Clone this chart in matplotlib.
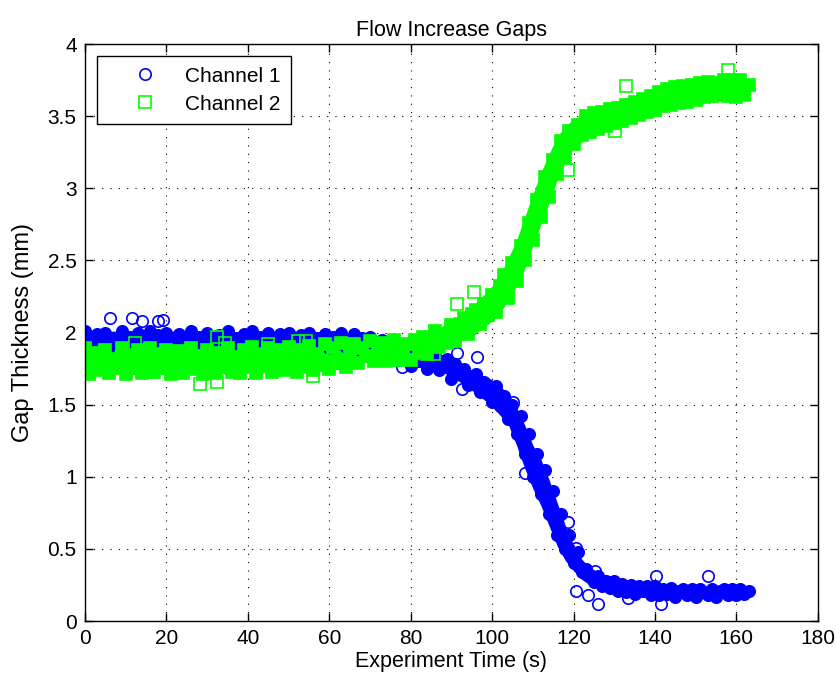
"""
Flow Increase Gaps - gap thickness of two channels over experiment time
"""

import numpy as np
import matplotlib.pyplot as plt

plt.rcParams['font.family'] = ['Liberation Sans', 'DejaVu Sans']

# sample times (1 s steps) for both channels
time_s = np.arange(0, 164, 1.0)

# Channel 1 gap thickness (mm)
ch1_gap = [
    2.01, 1.89, 1.95, 1.99, 1.91, 2.00, 1.90, 1.96, 1.93, 2.01,
    1.89, 1.97, 1.92, 2.00, 1.90, 1.95, 2.01, 1.91, 1.98, 1.93,
    2.00, 1.89, 1.96, 1.99, 1.90, 1.94, 2.01, 1.92, 1.97, 1.90,
    2.00, 1.93, 1.89, 1.98, 1.95, 2.01, 1.91, 1.96, 1.90, 1.99,
    1.93, 2.01, 1.89, 1.97, 1.92, 2.00, 1.90, 1.95, 1.99, 1.91,
    2.00, 1.94, 1.89, 1.98, 1.92, 2.00, 1.90, 1.96, 1.93, 1.99,
    1.89, 1.97, 1.92, 2.00, 1.90, 1.95, 1.99, 1.88, 1.96, 1.91,
    1.97, 1.86, 1.93, 1.95, 1.83, 1.90, 1.92, 1.81, 1.89, 1.87,
    1.77, 1.88, 1.80, 1.86, 1.75, 1.83, 1.84, 1.74, 1.80, 1.82,
    1.68, 1.78, 1.71, 1.75, 1.64, 1.70, 1.71, 1.59, 1.66, 1.64,
    1.52, 1.63, 1.49, 1.56, 1.40, 1.50, 1.30, 1.42, 1.16, 1.30,
    1.00, 1.16, 0.88, 1.05, 0.74, 0.90, 0.60, 0.74, 0.50, 0.60,
    0.40, 0.48, 0.34, 0.36, 0.32, 0.27, 0.31, 0.24, 0.28, 0.23,
    0.28, 0.21, 0.26, 0.20, 0.25, 0.19, 0.24, 0.21, 0.24, 0.18,
    0.24, 0.18, 0.22, 0.19, 0.23, 0.17, 0.21, 0.22, 0.18, 0.22,
    0.17, 0.22, 0.20, 0.18, 0.22, 0.17, 0.21, 0.22, 0.18, 0.22,
    0.18, 0.22, 0.19, 0.21,
]

# Channel 2 gap thickness (mm)
ch2_gap = [
    1.89, 1.71, 1.80, 1.86, 1.74, 1.88, 1.72, 1.82, 1.77, 1.89,
    1.71, 1.84, 1.76, 1.88, 1.72, 1.81, 1.89, 1.73, 1.85, 1.78,
    1.88, 1.71, 1.83, 1.87, 1.72, 1.79, 1.89, 1.75, 1.84, 1.71,
    1.88, 1.77, 1.72, 1.86, 1.81, 1.89, 1.73, 1.83, 1.72, 1.88,
    1.76, 1.90, 1.72, 1.85, 1.78, 1.89, 1.73, 1.82, 1.88, 1.74,
    1.90, 1.79, 1.73, 1.88, 1.76, 1.91, 1.74, 1.85, 1.80, 1.92,
    1.75, 1.89, 1.79, 1.93, 1.76, 1.86, 1.92, 1.79, 1.89, 1.84,
    1.94, 1.80, 1.87, 1.93, 1.80, 1.89, 1.95, 1.81, 1.88, 1.92,
    1.81, 1.95, 1.86, 1.97, 1.85, 1.94, 2.01, 1.90, 1.99, 1.93,
    2.05, 1.94, 2.06, 2.10, 1.99, 2.13, 2.16, 2.06, 2.20, 2.12,
    2.26, 2.14, 2.32, 2.40, 2.24, 2.48, 2.36, 2.60, 2.50, 2.76,
    2.64, 2.92, 2.80, 3.08, 2.94, 3.20, 3.10, 3.33, 3.22, 3.40,
    3.31, 3.44, 3.37, 3.50, 3.39, 3.52, 3.41, 3.53, 3.43, 3.55,
    3.45, 3.56, 3.47, 3.58, 3.49, 3.60, 3.51, 3.62, 3.53, 3.64,
    3.54, 3.67, 3.57, 3.69, 3.58, 3.70, 3.59, 3.71, 3.60, 3.72,
    3.61, 3.73, 3.63, 3.74, 3.64, 3.73, 3.65, 3.75, 3.64, 3.75,
    3.63, 3.75, 3.65, 3.72,
]

# spread of the dense readings (lowest / highest marker centre) along the run
ch1_band_t = [0, 30, 60, 70, 76, 80, 87, 92, 96, 100, 104, 106, 108, 110, 112, 114, 116, 118, 120, 122,
              124, 128, 132, 140, 150, 163]
ch1_band_lo = [1.89, 1.89, 1.88, 1.86, 1.81, 1.77, 1.74, 1.66, 1.58, 1.49, 1.36, 1.22, 1.06, 0.92, 0.80,
               0.66, 0.52, 0.42, 0.35, 0.29, 0.25, 0.21, 0.19, 0.17, 0.17, 0.17]
ch1_band_hi = [2.01, 2.01, 2.00, 1.98, 1.94, 1.90, 1.83, 1.79, 1.72, 1.67, 1.58, 1.48, 1.36, 1.22, 1.12,
               0.98, 0.82, 0.66, 0.53, 0.43, 0.37, 0.31, 0.28, 0.25, 0.22, 0.22]
ch2_band_t = [0, 30, 60, 68, 80, 89, 95, 100, 103, 106, 108, 110, 112, 114, 116, 118, 120, 125.6, 140,
              150, 160, 163]
ch2_band_lo = [1.71, 1.71, 1.73, 1.79, 1.81, 1.91, 1.97, 2.08, 2.18, 2.32, 2.44, 2.60, 2.75, 2.90, 3.06,
               3.18, 3.28, 3.39, 3.53, 3.60, 3.63, 3.63]
ch2_band_hi = [1.89, 1.89, 1.93, 1.94, 1.96, 2.06, 2.18, 2.32, 2.46, 2.64, 2.80, 2.96, 3.11, 3.24, 3.36,
               3.43, 3.48, 3.56, 3.69, 3.74, 3.75, 3.74]

# stray readings that stand out of the bands
ch1_out_t = [6.1, 11.5, 13.9, 17.9, 19.2, 77.8, 91.3, 92.5, 96.2, 105.2,
             108.0, 118.7, 120.7, 120.5, 123.6, 125.2, 126.0, 133.4, 140.2, 141.5, 153.0]
ch1_out_y = [2.10, 2.10, 2.08, 2.08, 2.09, 1.76, 1.86, 1.61, 1.83, 1.52,
             1.03, 0.69, 0.51, 0.21, 0.18, 0.35, 0.12, 0.16, 0.31, 0.12, 0.31]
ch2_out_t = [12.3, 28.2, 32.3, 32.3, 34.4, 45.0, 52.4, 54.4, 56.0, 85.7,
             91.3, 95.5, 118.7, 130.2, 133.0, 158.0]
ch2_out_y = [1.93, 1.645, 1.97, 1.66, 1.93, 1.92, 1.94, 1.94, 1.70, 1.85,
             2.20, 2.28, 3.13, 3.40, 3.71, 3.82]

blue = '#0000ff'
green = '#00ff00'

fig = plt.figure(figsize=(8.37, 6.84), dpi=100)
ax = fig.add_axes([0.1016, 0.092, 0.8754, 0.8435])
ax.set_axisbelow(True)

# thousands of hollow markers merge into a solid band in the original
ax.fill_between(ch1_band_t, ch1_band_lo, ch1_band_hi, color=blue, lw=0)
ax.plot(time_s, ch1_gap, 'o', color=blue, mfc=blue, ms=8.2, mew=1.2)
ax.plot(ch1_out_t, ch1_out_y, 'o', color=blue, mfc='none', ms=8.2, mew=1.2, label='Channel 1')
ax.fill_between(ch2_band_t, ch2_band_lo, ch2_band_hi, color=green, lw=0)
ax.plot(time_s, ch2_gap, 's', color=green, mfc=green, ms=8.2, mew=1.2)
ax.plot(ch2_out_t, ch2_out_y, 's', color=green, mfc='none', ms=8.2, mew=1.2, label='Channel 2')

ax.set_xlim(0, 180)
ax.set_ylim(0, 4)
ax.set_xticks(np.arange(0, 181, 20))
ax.set_yticks(np.arange(0, 4.01, 0.5))
ax.set_yticklabels(['0', '0.5', '1', '1.5', '2', '2.5', '3', '3.5', '4'])
ax.grid(True, color='k', linestyle=(0, (1, 6.5)), linewidth=0.8)
ax.tick_params(direction='in', top=True, right=True, length=6, labelsize=15, width=1, pad=6)
for sp in ax.spines.values():
    sp.set_linewidth(1)

ax.set_title('Flow Increase Gaps', fontsize=15.5, pad=6)
ax.set_xlabel('Experiment Time (s)', fontsize=15.5, labelpad=2)
ax.set_ylabel('Gap Thickness (mm)', fontsize=17, labelpad=10)

leg = ax.legend(loc='upper left', fontsize=15, fancybox=False, edgecolor='k',
                framealpha=1, borderaxespad=0.58, handletextpad=0.13,
                handlelength=3.6, borderpad=0.5, labelspacing=0.44)
leg.get_frame().set_linewidth(1)

fig.savefig('out.png', dpi=100)
